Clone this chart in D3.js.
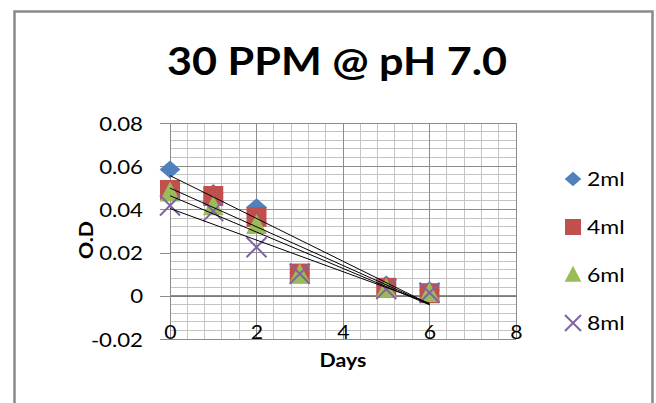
<!DOCTYPE html>
<html>
<head>
<meta charset="utf-8">
<script src="https://cdn.jsdelivr.net/npm/d3@7/dist/d3.min.js"></script>
<style>
  html, body { margin: 0; padding: 0; background: #fff; }
  svg { display: block; }
  text { font-family: Lato, "Open Sans", sans-serif; fill: #000; }
</style>
</head>
<body>
<svg id="chart" width="656" height="403"></svg>
<script>
// Optical density readings over time for each dose
const days = [0, 1, 2, 3, 5, 6];
const seriesNames = ["2ml", "4ml", "6ml", "8ml"];
const od2ml = [0.0585, 0.0476, 0.041, 0.0105, 0.0052, 0.0026];
const od4ml = [0.049, 0.0462, 0.0365, 0.0103, 0.0037, 0.0012];
const od6ml = [0.0475, 0.0412, 0.0325, 0.0098, 0.003, 0.001];
const od8ml = [0.0418, 0.0392, 0.0225, 0.0102, 0.0031, 0.0014];
const yTicks = [-0.02, 0, 0.02, 0.04, 0.06, 0.08];
const xTicks = [0, 2, 4, 6, 8];
const titleText = "30 PPM @ pH 7.0";

const colors = ["#4F81BD", "#C0504D", "#9BBB59", "#8064A2"];
const shapes = ["diamond", "square", "triangle", "cross"];
const values = [od2ml, od4ml, od6ml, od8ml];

// widen glyphs horizontally to the chart's text proportions
function stretch(sel, k) {
  sel.each(function () {
    const w = this.getComputedTextLength();
    d3.select(this).attr("textLength", w * k).attr("lengthAdjust", "spacingAndGlyphs");
  });
}

const svg = d3.select("#chart");

// chart frame
svg.append("path")
  .attr("d", "M14.5,410 V11.5 H652.5 V410")
  .attr("fill", "none").attr("stroke", "#8a8a8a").attr("stroke-width", 2.5);

const plot = { left: 170, right: 516, top: 123, bottom: 339 };
const x = d3.scaleLinear().domain([0, 8]).range([plot.left, plot.right]);
const y = d3.scaleLinear().domain([-0.02, 0.08]).range([plot.bottom, plot.top]);

const grid = svg.append("g").attr("shape-rendering", "crispEdges");
// minor gridlines
d3.range(0, 8.0001, 0.4).forEach(v => {
  grid.append("line").attr("x1", x(v)).attr("x2", x(v))
    .attr("y1", plot.top).attr("y2", plot.bottom)
    .attr("stroke", "#c4c4c4").attr("stroke-width", 1);
});
d3.range(-0.02, 0.08001, 0.004).forEach(v => {
  grid.append("line").attr("x1", plot.left).attr("x2", plot.right)
    .attr("y1", y(v)).attr("y2", y(v))
    .attr("stroke", "#c4c4c4").attr("stroke-width", 1);
});
// major gridlines
xTicks.forEach(v => {
  grid.append("line").attr("x1", x(v)).attr("x2", x(v))
    .attr("y1", plot.top).attr("y2", plot.bottom)
    .attr("stroke", "#8c8c8c").attr("stroke-width", 1);
});
yTicks.forEach(v => {
  grid.append("line").attr("x1", plot.left).attr("x2", plot.right)
    .attr("y1", y(v)).attr("y2", y(v))
    .attr("stroke", "#8c8c8c").attr("stroke-width", 1);
});

// y axis at x = 0 with outward ticks
const yAxis = d3.axisLeft(y).tickValues(yTicks).tickSize(10).tickPadding(17)
  .tickFormat(d => d === 0 ? "0" : d3.format(".2f")(d).replace("\u2212", "-"));
const gy = svg.append("g").attr("transform", `translate(${x(0)},0)`).call(yAxis);
gy.select(".domain").attr("stroke", "#8c8c8c").attr("shape-rendering", "crispEdges");
gy.selectAll(".tick line").attr("stroke", "#8c8c8c").attr("shape-rendering", "crispEdges");
gy.selectAll(".tick text").attr("font-size", 18.5).attr("font-family", "Lato, sans-serif")
  .attr("fill", "#000").attr("dy", "0.38em");
stretch(gy.selectAll(".tick text"), 1.2);

// x axis along y = 0, labels sit at the bottom of the plot
const xAxis = d3.axisBottom(x).tickValues(xTicks).tickSize(0).tickFormat(d3.format("d"));
const gx = svg.append("g").attr("transform", `translate(0,${y(0)})`).call(xAxis);
gx.select(".domain").attr("stroke", "#7a7a7a").attr("shape-rendering", "crispEdges");
gx.selectAll(".tick text")
  .attr("font-size", 18.5).attr("font-family", "Lato, sans-serif").attr("fill", "#000")
  .attr("y", plot.bottom - y(0)).attr("dy", "0");
stretch(gx.selectAll(".tick text"), 1.15);

// markers
const sym = {
  diamond: (g, s) => g.append("path").attr("d", `M0,${-s * 0.45} L${s * 0.52},0 L0,${s * 0.45} L${-s * 0.52},0 Z`),
  square: (g, s) => g.append("rect").attr("x", -s / 2).attr("y", -s / 2).attr("width", s).attr("height", s),
  triangle: (g, s) => g.append("path").attr("d", `M0,${-s * 0.58} L${s * 0.52},${s * 0.42} L${-s * 0.52},${s * 0.42} Z`),
  cross: (g, s) => g.append("path").attr("d", `M${-s / 2},${-s / 2} L${s / 2},${s / 2} M${s / 2},${-s / 2} L${-s / 2},${s / 2}`)
};

function marker(parent, i, cx, cy, s) {
  const g = parent.append("g").attr("transform", `translate(${cx},${cy})`);
  const el = sym[shapes[i]](g, s);
  if (shapes[i] === "cross") el.attr("fill", "none").attr("stroke", colors[i]).attr("stroke-width", 2);
  else el.attr("fill", colors[i]);
}

const marks = svg.append("g");
values.forEach((vals, i) => {
  vals.forEach((v, j) => marker(marks, i, x(days[j]), y(v), 20));
});

// linear trendlines (least squares) across the measured range
const trend = svg.append("g");
values.forEach(vals => {
  const mx = d3.mean(days), my = d3.mean(vals);
  const sxy = d3.sum(days, (d, k) => (d - mx) * (vals[k] - my));
  const sxx = d3.sum(days, d => (d - mx) * (d - mx));
  const slope = sxy / sxx, icpt = my - slope * mx;
  const x0 = d3.min(days), x1 = d3.max(days);
  trend.append("line")
    .attr("x1", x(x0)).attr("y1", y(icpt + slope * x0))
    .attr("x2", x(x1)).attr("y2", y(icpt + slope * x1))
    .attr("stroke", "#000").attr("stroke-width", 1);
});

// titles
const title = svg.append("text").attr("x", 337).attr("y", 75).attr("text-anchor", "middle")
  .attr("font-size", 37.5).attr("font-weight", "bold").text(titleText);
stretch(title, 1.15);
const xTitle = svg.append("text").attr("x", 343).attr("y", 367).attr("text-anchor", "middle")
  .attr("font-size", 19).attr("font-weight", "bold").text("Days");
stretch(xTitle, 1.12);
const yTitle = svg.append("text").attr("transform", "translate(93,240) rotate(-90)").attr("text-anchor", "middle")
  .attr("font-size", 19).attr("font-weight", "bold").text("O.D");
stretch(yTitle, 1.12);

// legend
const legend = svg.append("g");
seriesNames.forEach((name, i) => {
  const cy = 179 + i * 48;
  marker(legend, i, 573, cy, 16);
  const t = legend.append("text").attr("x", 587).attr("y", cy).attr("dy", "0.36em")
    .attr("font-size", 19.5).text(name);
  stretch(t, 1.18);
});
</script>
</body>
</html>
